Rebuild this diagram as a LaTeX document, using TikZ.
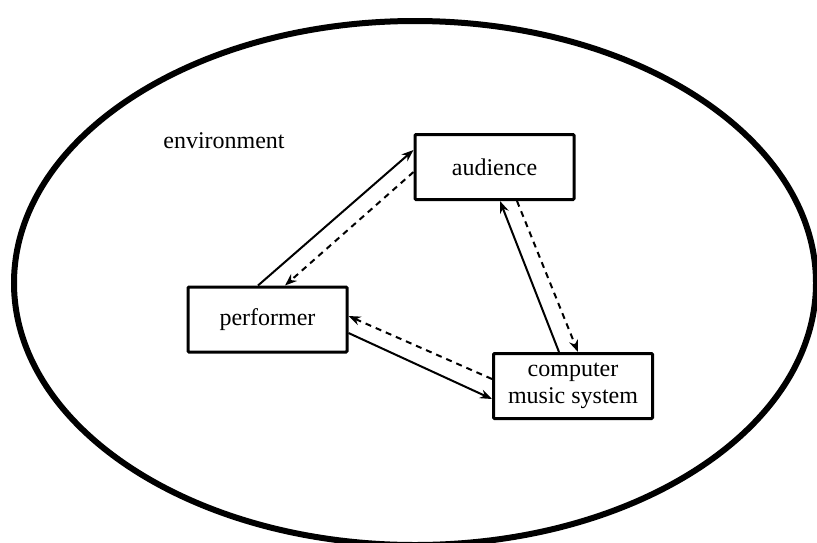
\documentclass[tikz,border=0pt]{standalone}
\usepackage{fontspec}
\setmainfont{Liberation Serif}
\usetikzlibrary{arrows.meta}

\begin{document}
\begin{tikzpicture}[
            x = 1pt, y = -1pt, % pixel-like units, y downwards
            > = {Stealth[length=12pt, width=9pt]}, % arrow head style
            line width = 2pt, % line style
            font = \fontsize{24}{30}\selectfont
        ]

        \tikzstyle{box}=[
            draw = black,
            line width = 3pt,
            rounded corners = 1pt,
            fill = white,
            align = center,
            minimum width = 159pt,
            minimum height = 65pt
        ]
        \tikzstyle{back}=[dash pattern = on 6pt off 5pt]

        \useasboundingbox (0,0) rectangle (817,542);

        % environment
        \draw[line width = 6pt] (415,283) ellipse [x radius = 401pt, y radius = 262pt];
        \node (env) at (224,141) {environment};

        \node[box] (perf) at (267.5,319.5) {performer};
        \node[box] (aud) at (494.5,167) {audience};
        \node[box] (cms) at (573,386) {computer\\[-3pt]music system};

        \path[->] ([xshift=-9.5pt]perf.north) edge node {} ([yshift=17pt]aud.west);
        \path[->, back] ([yshift=-5pt]aud.west) edge node {} ([xshift=17.5pt]perf.north);
        \path[->] ([xshift=-14pt]cms.north) edge node {} ([xshift=5.5pt]aud.south);
        \path[->, back] ([xshift=22.5pt]aud.south) edge node {} ([xshift=5pt]cms.north);
        \path[->] ([yshift=-13.5pt]perf.east) edge node {} ([yshift=-13pt]cms.west);
        \path[->, back] ([yshift=7pt]cms.west) edge node {} ([yshift=3.5pt]perf.east);

    \end{tikzpicture}
\end{document}
